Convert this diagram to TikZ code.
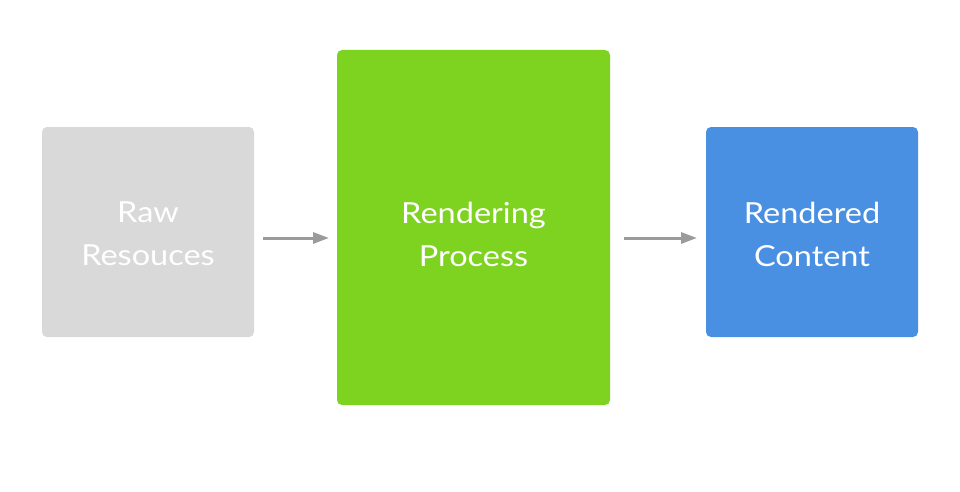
\documentclass[tikz,border=0pt]{standalone}
\usepackage{fontspec}
\setmainfont{Lato}[FakeStretch=1.12]
\usetikzlibrary{arrows.meta}
\definecolor{rawgray}{HTML}{D9D9D9}
\definecolor{procgreen}{HTML}{7ED321}
\definecolor{outblue}{HTML}{4A90E2}
\definecolor{arrowgray}{HTML}{9B9B9B}
\tikzset{
  box/.style={rounded corners=5pt, draw=none},
  lbl/.style={text=white, align=center, font=\fontsize{29}{43}\selectfont, inner sep=0pt},
  flow/.style={draw=arrowgray, line width=3pt, -{Triangle[length=16pt,width=11pt]}}
}
\begin{document}
\begin{tikzpicture}[x=1pt,y=-1pt]
\useasboundingbox (0,0) rectangle (960,492);
\fill[white] (0,0) rectangle (960,492);
\fill[box, rawgray] (42,127) rectangle (254,337);
\fill[box, procgreen] (337,50) rectangle (610,405);
\fill[box, outblue] (706,127) rectangle (918,337);
\coordinate (rawE) at (263,238);
\coordinate (procW) at (329,238);
\coordinate (procE) at (624,238);
\coordinate (outW) at (697,238);
\node[lbl] (raw) at (148,234) {Raw\\Resouces};
\node[lbl] (proc) at (473.5,234) {Rendering\\Process};
\node[lbl] (out) at (812,234) {Rendered\\Content};
\draw[flow] (rawE) -- (procW);
\draw[flow] (procE) -- (outW);
\end{tikzpicture}
\end{document}
